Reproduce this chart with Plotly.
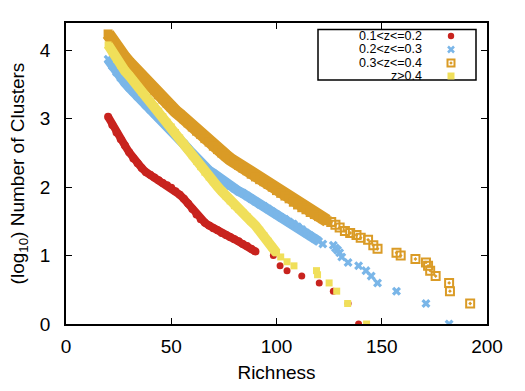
import plotly.graph_objects as go

# ---------------- data ----------------
# 0.1<z<=0.2  (red circles)
red_x = list(range(20, 91, 2))
red_y = [3.03, 2.91, 2.80, 2.70, 2.61, 2.51, 2.42, 2.35, 2.28, 2.22, 2.18, 2.14,
         2.10, 2.06, 2.03, 1.99, 1.94, 1.89, 1.83, 1.76, 1.68, 1.60, 1.53, 1.48,
         1.44, 1.40, 1.37, 1.33, 1.30, 1.27, 1.24, 1.21, 1.17, 1.14, 1.10, 1.06]
red_tail_x = [98.5, 101.7, 105, 112, 120.3, 127, 134, 139]
red_tail_y = [1.00, 0.85, 0.78, 0.70, 0.60, 0.48, 0.30, 0.00]

# 0.2<z<=0.3  (blue crosses)
blue_x = list(range(20, 121, 2))
blue_y = [3.87, 3.77, 3.68, 3.60, 3.53, 3.46, 3.40, 3.33, 3.27, 3.20, 3.14, 3.08,
          3.02, 2.96, 2.90, 2.84, 2.77, 2.70, 2.63, 2.56, 2.49, 2.42, 2.35, 2.29,
          2.24, 2.20, 2.15, 2.10, 2.06, 2.02, 1.98, 1.94, 1.91, 1.87, 1.83, 1.79,
          1.75, 1.72, 1.68, 1.64, 1.60, 1.56, 1.53, 1.49, 1.46, 1.42, 1.38, 1.33,
          1.29, 1.25, 1.21]
blue_tail_x = [122, 127, 128, 129, 130, 131, 134, 139, 142.5, 145, 148, 157, 171, 182]
blue_tail_y = [1.17, 1.15, 1.11, 1.08, 1.04, 0.98, 0.90, 0.85, 0.78, 0.70, 0.60,
               0.48, 0.30, 0.00]

# 0.3<z<=0.4  (orange open squares)
orange_x = list(range(20, 125, 2))
orange_y = [4.24, 4.13, 4.04, 3.96, 3.89, 3.82, 3.75, 3.68, 3.61, 3.54, 3.48, 3.41,
            3.35, 3.29, 3.23, 3.17, 3.11, 3.06, 3.00, 2.94, 2.88, 2.82, 2.77, 2.71,
            2.66, 2.60, 2.55, 2.50, 2.46, 2.41, 2.37, 2.32, 2.28, 2.24, 2.19, 2.15,
            2.11, 2.08, 2.04, 2.00, 1.95, 1.91, 1.87, 1.83, 1.78, 1.74, 1.70, 1.67,
            1.63, 1.60, 1.57, 1.54, 1.51]
orange_tail_x = [126, 128, 130, 132.5, 135, 138, 140, 143.5, 146, 148, 157, 159,
                 166, 171, 172, 173, 175.6, 182, 182.4, 192]
orange_tail_y = [1.49, 1.45, 1.41, 1.36, 1.33, 1.30, 1.26, 1.23, 1.15, 1.10, 1.04,
                 1.00, 0.95, 0.90, 0.85, 0.78, 0.70, 0.60, 0.48, 0.30]

# z>0.4  (yellow squares)
yellow_x = list(range(20, 101, 2))
yellow_y = [4.08, 3.97, 3.87, 3.78, 3.70, 3.63, 3.55, 3.47, 3.39, 3.32, 3.25, 3.18,
            3.11, 3.03, 2.95, 2.88, 2.80, 2.72, 2.64, 2.55, 2.46, 2.38, 2.30, 2.22,
            2.15, 2.08, 2.01, 1.94, 1.87, 1.80, 1.73, 1.68, 1.63, 1.57, 1.50, 1.44,
            1.37, 1.29, 1.21, 1.12, 1.04]
yellow_tail_x = [102, 105, 108.3, 119, 119.5, 125, 128.6, 133.8, 142.8]
yellow_tail_y = [0.98, 0.91, 0.85, 0.78, 0.72, 0.60, 0.48, 0.30, 0.00]

labels = ["0.1<z<=0.2", "0.2<z<=0.3", "0.3<z<=0.4", "z>0.4"]
x_ticks = [0, 50, 100, 150, 200]
y_ticks = [0, 1, 2, 3, 4]

# ---------------- styles ----------------
RED = "#C8231E"
BLUE = "#7AB6E8"
ORANGE = "#DA9B26"
YELLOW = "#F0DF5A"
FONT = "Liberation Sans, Arial, Helvetica, sans-serif"

W, H = 525, 391
ML, MR, MT, MB = 66, 38, 23, 67
PW, PH = W - ML - MR, H - MT - MB

# name, dense x/y, tail x/y, colour, dense symbol, tail symbol, band width,
# dense marker size, tail marker size
series = [
    (labels[0], red_x, red_y, red_tail_x, red_tail_y, RED, "circle", "circle", 8, 8, 7),
    (labels[1], blue_x, blue_y, blue_tail_x, blue_tail_y, BLUE, "x", "x", 10, 8, 8),
    (labels[2], orange_x, orange_y, orange_tail_x, orange_tail_y, ORANGE, "square",
     "square-open-dot", 13, 9, 8),
    (labels[3], yellow_x, yellow_y, yellow_tail_x, yellow_tail_y, YELLOW, "square",
     "square", 10, 7, 7),
]

fig = go.Figure()
for name, dx, dy, tx, ty, col, dsym, tsym, width, dsize, tsize in series:
    # dense part of the distribution: overlapping points form a solid band
    fig.add_trace(go.Scatter(
        x=dx, y=dy, mode="lines+markers", name=name, showlegend=False,
        line=dict(color=col, width=width),
        marker=dict(symbol=dsym, size=dsize, color=col, line=dict(width=0)),
        hoverinfo="skip"))
    tail_line = dict(width=2, color=col) if "open" in tsym else dict(width=0)
    fig.add_trace(go.Scatter(
        x=tx, y=ty, mode="markers", name=name, showlegend=False,
        marker=dict(symbol=tsym, size=tsize, color=col, line=tail_line)))


# ---------------- legend (gnuplot style: text on the left, symbol on the right) ----
def px(xp):
    return (xp - ML) / PW


def py(yp):
    return (H - MB - yp) / PH


shapes = [dict(type="rect", xref="paper", yref="paper",
               x0=px(318), x1=px(476), y0=py(80), y1=py(29.5),
               line=dict(color="black", width=1.5), fillcolor="white", layer="above")]
annotations = []
rows = [36, 49.5, 63, 76]
sym_x = 451
for lab, yy in zip(labels, rows):
    annotations.append(dict(text=lab, xref="paper", yref="paper", x=px(424), y=py(yy),
                            xanchor="right", yanchor="middle", showarrow=False,
                            font=dict(family=FONT, size=12.5, color="black")))
# red circle
shapes.append(dict(type="circle", xref="paper", yref="paper",
                   x0=px(sym_x - 3.2), x1=px(sym_x + 3.2),
                   y0=py(rows[0] + 3.2), y1=py(rows[0] - 3.2),
                   fillcolor=RED, line=dict(width=0), layer="above"))
# blue cross
for a, b in [(-3, -3), (-3, 3)]:
    shapes.append(dict(type="line", xref="paper", yref="paper",
                       x0=px(sym_x + a), x1=px(sym_x - a),
                       y0=py(rows[1] + b), y1=py(rows[1] - b),
                       line=dict(color=BLUE, width=2.5), layer="above"))
# orange open square with dot
shapes.append(dict(type="rect", xref="paper", yref="paper",
                   x0=px(sym_x - 3.5), x1=px(sym_x + 3.5),
                   y0=py(rows[2] + 3.5), y1=py(rows[2] - 3.5),
                   line=dict(color=ORANGE, width=2), fillcolor="white", layer="above"))
shapes.append(dict(type="rect", xref="paper", yref="paper",
                   x0=px(sym_x - 0.9), x1=px(sym_x + 0.9),
                   y0=py(rows[2] + 0.9), y1=py(rows[2] - 0.9),
                   line=dict(color=ORANGE, width=0.8), fillcolor=ORANGE, layer="above"))
# yellow square
shapes.append(dict(type="rect", xref="paper", yref="paper",
                   x0=px(sym_x - 3.5), x1=px(sym_x + 3.5),
                   y0=py(rows[3] + 3.5), y1=py(rows[3] - 3.5),
                   line=dict(width=0), fillcolor=YELLOW, layer="above"))

axis_common = dict(
    showline=True, linecolor="black", linewidth=1.5, mirror="ticks",
    ticks="inside", ticklen=6, tickwidth=1.2, tickcolor="black",
    showgrid=False, zeroline=False,
    tickfont=dict(family=FONT, size=19, color="black"),
)

fig.update_layout(
    width=W, height=H,
    margin=dict(l=ML, r=MR, t=MT, b=MB),
    plot_bgcolor="white", paper_bgcolor="white",
    font=dict(family=FONT, color="black"),
    showlegend=False,
    xaxis=dict(range=[0, 200], tickvals=x_ticks, ticklabelstandoff=4,
               title=dict(text="Richness", font=dict(size=19), standoff=10),
               **axis_common),
    yaxis=dict(range=[0, 4.4], tickvals=y_ticks, ticklabelstandoff=10,
               title=dict(text="(log<sub>10</sub>) Number of Clusters",
                          font=dict(size=19), standoff=10),
               **axis_common),
    shapes=shapes,
    annotations=annotations,
)

fig.write_html("out.html")
